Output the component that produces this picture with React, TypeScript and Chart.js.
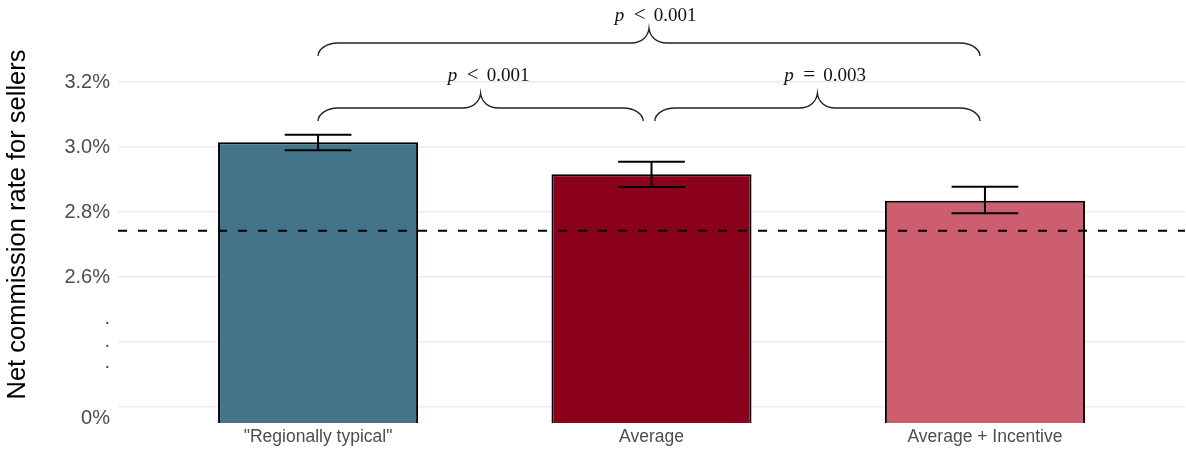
import React, { useEffect, useRef } from "react";
import { Chart, registerables } from "chart.js";

Chart.register(...registerables);

// ---------- data ----------
const categories = ['"Regionally typical"', "Average", "Average + Incentive"];
const categoryPositions = [1, 2, 3];
const rates = [3.0145, 2.916, 2.835];
const errLow = [2.99, 2.877, 2.796];
const errHigh = [3.038, 2.955, 2.878];
const referenceRate = 2.7425;
const barColors = ["#44748a", "#8b001b", "#cc5e6f"];

const yMin = 2.1508;
const yMax = 3.3723;
const gridValues = [2.2, 2.4, 2.6, 2.8, 3.0, 3.2];
const yTickValues = [2.166, 2.3385, 2.403, 2.471, 2.6, 2.8, 3.0, 3.2];
const yTickLabels = ["0%", ".", ".", ".", "2.6%", "2.8%", "3.0%", "3.2%"];

const bracketStart = [1, 1, 2.01];
const bracketEnd = [2.985, 1.975, 2.985];
const bracketY = [3.32, 3.12, 3.12];
const bracketLabelX = [2.0123, 1.5114, 2.5207];
const bracketLabelY = [3.3862, 3.2046, 3.2046];
const bracketOp = ["<", "<", "="];
const bracketP = ["0.001", "0.001", "0.003"];

const overlayPlugin = {
  id: "overlay",
  afterDatasetsDraw(chart: any) {
    const { ctx, chartArea, scales } = chart;
    const x = scales.x;
    const y = scales.y;
    ctx.save();
    ctx.strokeStyle = "#000";
    ctx.lineWidth = 2;
    ctx.setLineDash([9, 11]);
    const yr = y.getPixelForValue(referenceRate);
    ctx.beginPath();
    ctx.moveTo(chartArea.left, yr);
    ctx.lineTo(chartArea.right, yr);
    ctx.stroke();
    ctx.setLineDash([]);
    ctx.lineWidth = 2;
    for (let i = 0; i < rates.length; i++) {
      const cx = x.getPixelForValue(categoryPositions[i]);
      const xl = x.getPixelForValue(categoryPositions[i] - 0.1);
      const xr = x.getPixelForValue(categoryPositions[i] + 0.1);
      const yl = y.getPixelForValue(errLow[i]);
      const yh = y.getPixelForValue(errHigh[i]);
      ctx.beginPath();
      ctx.moveTo(cx, yl);
      ctx.lineTo(cx, yh);
      ctx.moveTo(xl, yl);
      ctx.lineTo(xr, yl);
      ctx.moveTo(xl, yh);
      ctx.lineTo(xr, yh);
      ctx.stroke();
    }
    ctx.restore();
  },
  afterDraw(chart: any) {
    const { ctx, scales } = chart;
    const x = scales.x;
    const y = scales.y;
    ctx.save();
    ctx.strokeStyle = "#222";
    ctx.lineWidth = 1.4;
    const drop = 13;
    const rise = 14.5;
    const cw = 20;
    const tw = 18;
    for (let i = 0; i < bracketStart.length; i++) {
      const xL = x.getPixelForValue(bracketStart[i]);
      const xR = x.getPixelForValue(bracketEnd[i]);
      const xm = (xL + xR) / 2;
      const yH = y.getPixelForValue(bracketY[i]);
      ctx.beginPath();
      ctx.moveTo(xL, yH + drop);
      ctx.bezierCurveTo(xL, yH + drop * 0.45, xL + cw * 0.45, yH, xL + cw, yH);
      ctx.lineTo(xm - tw, yH);
      ctx.bezierCurveTo(xm - tw * 0.4, yH, xm - 1, yH - rise * 0.45, xm, yH - rise);
      ctx.bezierCurveTo(xm + 1, yH - rise * 0.45, xm + tw * 0.4, yH, xm + tw, yH);
      ctx.lineTo(xR - cw, yH);
      ctx.bezierCurveTo(xR - cw * 0.45, yH, xR, yH + drop * 0.45, xR, yH + drop);
      ctx.stroke();

      const fs = 19;
      const cx = x.getPixelForValue(bracketLabelX[i]);
      const base = y.getPixelForValue(bracketLabelY[i]);
      ctx.fillStyle = "#111";
      ctx.textBaseline = "alphabetic";
      ctx.textAlign = "left";
      ctx.font = `${fs}px 'Liberation Serif'`;
      const numW = ctx.measureText(bracketP[i]).width;
      const numX = 2.05 * fs;
      const total = numX + numW;
      const x0 = cx - total / 2;
      ctx.font = `italic ${fs}px 'Liberation Serif'`;
      ctx.fillText("p", x0, base);
      ctx.font = `${fs + 2}px 'Liberation Serif'`;
      ctx.fillText(bracketOp[i], x0 + 1.0 * fs, base);
      ctx.font = `${fs}px 'Liberation Serif'`;
      ctx.fillText(bracketP[i], x0 + numX, base);
    }
    ctx.restore();
  },
};

export default function App() {
  const ref = useRef<HTMLCanvasElement>(null);
  useEffect(() => {
    if (!ref.current) return;
    const chart = new Chart(ref.current, {
      type: "bar",
      data: {
        datasets: [
          {
            data: rates.map((v, i) => ({ x: categoryPositions[i], y: v })),
            backgroundColor: barColors,
            borderColor: "#000",
            borderWidth: 2,
            barPercentage: 0.6,
            categoryPercentage: 1,
            xAxisID: "x",
            yAxisID: "y",
          },
        ],
      },
      options: {
        animation: false,
        responsive: true,
        maintainAspectRatio: false,
        layout: { padding: { top: 26, right: 1, left: 0, bottom: 0 } },
        plugins: { legend: { display: false }, tooltip: { enabled: false } },
        scales: {
          x: {
            type: "linear",
            min: 0.4,
            max: 3.6,
            offset: false,
            afterBuildTicks: (s: any) => {
              s.ticks = categoryPositions.map((v) => ({ value: v }));
            },
            afterFit: (s: any) => {
              s.height = 28;
            },
            ticks: {
              autoSkip: false,
              maxRotation: 0,
              padding: 4,
              color: "#4d4d4d",
              font: { family: "'Liberation Sans', Arial, sans-serif", size: 17.5 },
              callback: (v: any) => categories[categoryPositions.indexOf(Number(v))] ?? "",
            },
            grid: { display: false, drawTicks: false },
            border: { display: false },
          },
          y: {
            type: "linear",
            position: "left",
            min: yMin,
            max: yMax,
            afterBuildTicks: (s: any) => {
              s.ticks = yTickValues.map((v) => ({ value: v }));
            },
            afterFit: (s: any) => {
              s.width = 118;
            },
            ticks: {
              autoSkip: false,
              padding: 8,
              color: "#4d4d4d",
              font: { family: "'Liberation Sans', Arial, sans-serif", size: 20 },
              callback: (_v: any, i: number) => yTickLabels[i],
            },
            grid: { display: false, drawTicks: false },
            border: { display: false },
            title: {
              display: true,
              text: "Net commission rate for sellers",
              color: "#000",
              padding: { top: 3, bottom: 0 },
              font: { family: "'Liberation Sans', Arial, sans-serif", size: 25.5 },
            },
          },
          yg: {
            type: "linear",
            position: "right",
            min: yMin,
            max: yMax,
            afterBuildTicks: (s: any) => {
              s.ticks = gridValues.map((v) => ({ value: v }));
            },
            afterFit: (s: any) => {
              s.width = 0;
            },
            ticks: { display: false },
            grid: { color: "#ebebeb", lineWidth: 1.5, drawTicks: false },
            border: { display: false },
          },
        },
      },
      plugins: [overlayPlugin],
    });
    return () => chart.destroy();
  }, []);
  return (
    <div style={{ position: "absolute", left: 0, top: 0, width: 1186, height: 451, background: "#fff" }}>
      <canvas ref={ref} />
    </div>
  );
}
